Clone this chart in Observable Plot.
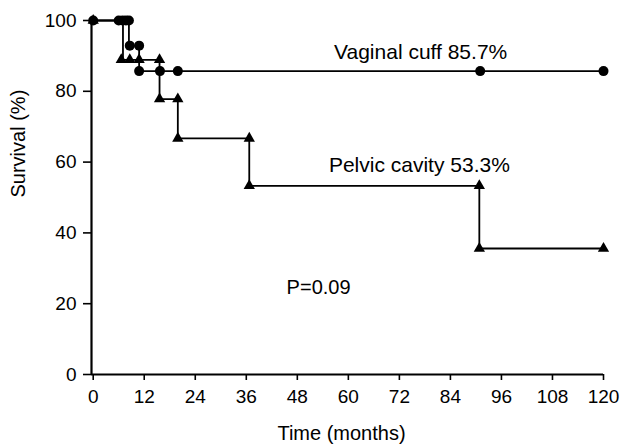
<!DOCTYPE html>
<html><head><meta charset="utf-8">
<script src="https://cdn.jsdelivr.net/npm/d3@7"></script>
<script src="https://cdn.jsdelivr.net/npm/@observablehq/plot@0.6"></script>
<style>body{margin:0;background:#fff}#chart svg{display:block}</style>
</head><body><div id="chart"></div>
<script>
const xTicks = [0, 12, 24, 36, 48, 60, 72, 84, 96, 108, 120];
const yTicks = [0, 20, 40, 60, 80, 100];

// Vaginal cuff: step curve and marks
const cuffTime = [0, 8.4, 10.8, 120];
const cuffSurv = [100, 92.9, 85.7, 85.7];
const cuffMarkTime = [0, 6.0, 6.9, 7.7, 8.4, 8.6, 10.8, 10.8, 15.7, 19.9, 91, 120];
const cuffMarkSurv = [100, 100, 100, 100, 100, 92.9, 92.9, 85.7, 85.7, 85.7, 85.7, 85.7];

// Pelvic cavity: step curve and marks
const pelvTime = [0, 7.0, 15.6, 19.9, 36.7, 90.8, 120];
const pelvSurv = [100, 88.9, 77.8, 66.7, 53.3, 35.6, 35.6];
const pelvMarkTime = [0, 6.6, 8.6, 10.8, 15.6, 15.6, 19.9, 19.9, 36.7, 36.7, 90.8, 90.8, 120];
const pelvMarkSurv = [100, 88.9, 88.9, 88.9, 88.9, 77.8, 77.8, 66.7, 66.7, 53.3, 53.3, 35.6, 35.6];

const noteText = ["Vaginal cuff 85.7%", "Pelvic cavity 53.3%", "P=0.09"];
const noteTime = [77, 76.7, 53];
const noteSurv = [91, 59, 24.6];
const noteSize = [21, 21, 20];

const zip = (xs, ys) => xs.map((x, i) => ({x, y: ys[i]}));
const cuff = zip(cuffTime, cuffSurv);
const cuffM = zip(cuffMarkTime, cuffMarkSurv);
const pelv = zip(pelvTime, pelvSurv);
const pelvM = zip(pelvMarkTime, pelvMarkSurv);
const notes = noteText.map((t, i) => ({t, x: noteTime[i], y: noteSurv[i], s: noteSize[i]}));

const FONT = "'Liberation Sans', Arial, Helvetica, sans-serif";

const chart = Plot.plot({
  width: 622,
  height: 444,
  marginLeft: 91,
  marginRight: 19,
  marginTop: 20,
  marginBottom: 70,
  style: {fontFamily: FONT, background: "#fff", color: "#000"},
  x: {domain: [-0.4, 120]},
  y: {domain: [0, 100]},
  marks: [
    Plot.axisX({ticks: xTicks, tickSize: 6, tickPadding: 9, fontSize: 19, label: null, strokeWidth: 1.6}),
    Plot.axisY({ticks: yTicks, tickSize: 8, tickPadding: 7, fontSize: 19, label: null, strokeWidth: 1.6}),
    Plot.ruleX([-0.4], {y1: 0, y2: 100, strokeWidth: 2.2}),
    Plot.ruleY([0], {x1: -0.4, x2: 120, strokeWidth: 2.2}),
    Plot.line(pelv, {x: "x", y: "y", curve: "step-after", stroke: "#000", strokeWidth: 1.8}),
    Plot.line(cuff, {x: "x", y: "y", curve: "step-after", stroke: "#000", strokeWidth: 1.8}),
    Plot.dot(pelvM, {x: "x", y: "y", symbol: "triangle", r: 4.2, fill: "#000", stroke: "none"}),
    Plot.dot(cuffM, {x: "x", y: "y", symbol: "circle", r: 5, fill: "#000", stroke: "none"}),
    Plot.text(notes, {x: "x", y: "y", text: "t", fontSize: "s", fill: "#000"}),
    Plot.text(["Time (months)"], {frameAnchor: "bottom", dy: 65, dx: -6, fontSize: 20, fill: "#000"}),
    Plot.text(["Survival (%)"], {frameAnchor: "left", dx: -73, rotate: -90, fontSize: 20, fill: "#000"})
  ]
});
document.getElementById("chart").append(chart);
</script>
</body></html>
